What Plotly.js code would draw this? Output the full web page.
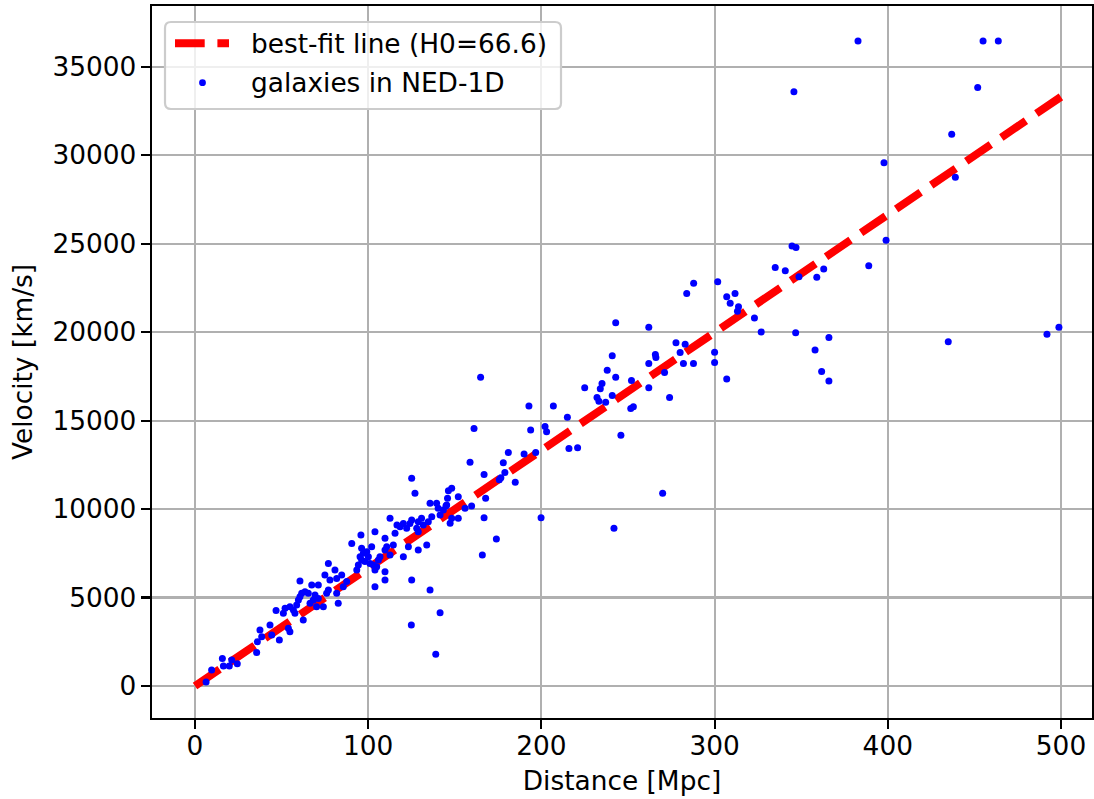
<!DOCTYPE html>
<html>
<head>
<meta charset="utf-8">
<script src="https://cdn.plot.ly/plotly-3.0.1.min.js"></script>
<style>html,body{margin:0;padding:0;background:#fff;}#chart{width:1094px;height:799px;}</style>
</head>
<body>
<div id="chart"></div>
<script>
// ---- data ----
const H0 = 66.6;
const fitDistance = [0, 500];
const fitVelocity = [0, 33300];

const galaxyDistance = [
  6.4, 9.6, 15.8, 16.4, 19.8, 21.2, 24.4, 35.6, 36.0, 37.5, 38.5, 43.3, 44.3, 48.7, 46.8, 51.0, 53.9, 54.8, 62.5, 52.0,
  54.8, 56.8, 58.7, 57.7, 59.7, 61.6, 60.6, 63.5, 65.4, 66.4, 68.3, 69.3, 71.2, 70.2, 67.4, 71.2, 74.1, 76.0, 77.0, 75.0,
  77.9, 77.0, 80.8, 81.8, 84.7, 82.7, 81.8, 85.6, 87.6, 60.6,
  125.1, 127.0, 148.2, 146.3, 152.0, 135.7, 139.5, 145.3, 143.4, 141.5, 148.2, 152.0, 155.9, 112.6, 115.5, 118.4, 120.3, 124.1, 122.2, 116.6,
  125.1, 128.9, 130.8, 128.0, 128.9, 131.8, 134.7, 136.7, 128.9, 133.8, 123.2, 120.3, 125.1, 135.7, 141.5, 103.9, 109.7, 102.0, 109.7, 110.7,
  114.5, 112.6, 109.7, 109.7, 103.9, 95.8, 90.5, 96.2, 97.2, 95.3, 99.2, 100.1, 96.2, 98.1, 94.3, 93.4, 101.0, 104.9, 105.9, 106.8,
  103.9, 103.0,
  192.8, 193.8, 202.1, 203.0, 161.1, 158.8, 180.9, 190.0, 196.7, 178.0, 178.9, 176.6, 175.7, 166.9, 184.9, 145.8, 140.4, 144.9, 159.7, 167.8,
  166.9, 199.8, 147.3,
  164.9, 242.9, 262.0, 277.7, 283.0, 280.1, 282.0, 287.8, 265.8, 266.1, 262.0, 271.1, 262.0, 274.0, 240.9, 238.0, 242.9, 252.0, 235.0, 234.0,
  225.0, 232.1, 233.2, 237.1, 240.9, 251.6, 253.1, 245.9, 206.9, 215.0, 215.9, 220.9, 270.0, 241.9,
  344.7, 347.0, 335.0, 340.8, 348.7, 359.0, 301.8, 287.9, 283.9, 307.0, 311.8, 309.0, 313.8, 313.2, 323.0, 326.9, 346.8, 358.0, 300.0, 300.0,
  307.0,
  399.0, 389.0, 363.0, 366.0, 361.8, 366.0,
  455.0, 463.8, 451.9, 436.9, 439.0, 397.8, 434.9, 491.9, 498.8,
  382.8, 345.8,
  174.0, 165.9, 124.9, 139.0
];
const galaxyVelocity = [
  230, 900, 1560, 1130, 1130, 1470, 1260, 1900, 2500, 3160, 2790, 3450, 2880, 2600, 4260, 4110, 3260, 3070, 3730, 4390,
  4480, 4290, 4580, 4110, 4860, 5240, 5050, 5330, 5240, 4670, 4860, 5140, 4950, 4480, 5710, 5710, 4480, 5240, 5420, 6270,
  5990, 6930, 6550, 6080, 6270, 4670, 5240, 5610, 5900, 5930,
  11740, 10890, 11170, 11040, 10700, 10330, 10330, 10230, 9950, 9670, 9480, 9480, 10040, 9480, 8630, 9000, 9190, 9190, 8910, 9100,
  9380, 9290, 9480, 8910, 8720, 9100, 9290, 9570, 7690, 7970, 7870, 7310, 5990, 5430, 4140, 8720, 8350, 7870, 7690, 7870,
  7970, 7400, 6460, 5990, 5610, 8530, 8060, 7780, 7500, 7310, 7590, 7310, 7120, 7030, 6840, 6550, 6930, 6740, 7120, 7310,
  6550, 6840,
  15830, 14470, 14660, 14370, 14560, 12640, 13190, 13110, 13190, 12620, 12060, 11770, 11660, 11960, 11510, 10610, 10040, 10170, 10170, 10610,
  9510, 9510, 9200,
  17450, 20530, 20280, 19400, 19310, 18850, 18230, 18230, 18740, 18570, 18230, 17720, 16850, 16310, 18660, 17850, 17450, 17270, 17100, 16800,
  16850, 16310, 16100, 16040, 16420, 15690, 15780, 14170, 15830, 15190, 13430, 13470, 10890, 8910,
  24870, 24790, 23660, 23470, 23130, 23100, 22850, 22760, 22190, 22000, 22190, 21630, 21440, 21180, 20800, 20010, 19970, 18990, 18860, 18290,
  17350,
  25200, 23750, 23570, 19690, 17770, 17240,
  36450, 36450, 33820, 31180, 28750, 29580, 19460, 19880, 20270,
  36450, 33590,
  8310, 7400, 3450, 1790
];

const legendLabels = ['best-fit line (H0=' + H0 + ')', 'galaxies in NED-1D'];
const xTitle = 'Distance [Mpc]';
const yTitle = 'Velocity [km/s]';

// ---- layout geometry (pixels) ----
const W = 1094, H = 799;
const M = {l: 152, r: 2, t: 6, b: 81};
const PW = W - M.l - M.r, PH = H - M.t - M.b;
const px2x = p => (p - M.l) / PW;
const px2y = p => (H - M.b - p) / PH;

const FONT = 'DejaVu Sans, Liberation Sans, sans-serif';
const FS = 26.4;
const RED = '#ff0000', BLUE = '#0000ff';
const DASH = '29.7px,12.7px';

const traces = [
  {
    x: fitDistance, y: fitVelocity, type: 'scatter', mode: 'lines',
    name: legendLabels[0],
    line: {color: RED, width: 7.9, dash: DASH},
    hoverinfo: 'skip'
  },
  {
    x: galaxyDistance, y: galaxyVelocity, type: 'scatter', mode: 'markers',
    name: legendLabels[1],
    marker: {color: BLUE, size: 7, line: {width: 0}}
  }
];

// rounded legend frame
function roundedRect(x0, y0, x1, y1, r) {
  const X = p => px2x(p).toFixed(5), Y = p => px2y(p).toFixed(5);
  return 'M' + X(x0 + r) + ',' + Y(y0) +
    ' L' + X(x1 - r) + ',' + Y(y0) + ' Q' + X(x1) + ',' + Y(y0) + ' ' + X(x1) + ',' + Y(y0 + r) +
    ' L' + X(x1) + ',' + Y(y1 - r) + ' Q' + X(x1) + ',' + Y(y1) + ' ' + X(x1 - r) + ',' + Y(y1) +
    ' L' + X(x0 + r) + ',' + Y(y1) + ' Q' + X(x0) + ',' + Y(y1) + ' ' + X(x0) + ',' + Y(y1 - r) +
    ' L' + X(x0) + ',' + Y(y0 + r) + ' Q' + X(x0) + ',' + Y(y0) + ' ' + X(x0 + r) + ',' + Y(y0) + ' Z';
}

const legX0 = 165, legY0 = 22, legX1 = 561, legY1 = 109;
const row1 = 43.3, row2 = 82.7;
const dotR = 3.4, dotCx = 202.5;

const shapes = [
  {type: 'path', xref: 'paper', yref: 'paper', layer: 'above',
   path: roundedRect(legX0, legY0, legX1, legY1, 6),
   fillcolor: 'rgba(255,255,255,0.8)', line: {color: '#cccccc', width: 2.2}},
  {type: 'line', xref: 'paper', yref: 'paper', layer: 'above',
   x0: px2x(175), x1: px2x(229), y0: px2y(row1), y1: px2y(row1),
   line: {color: RED, width: 7.9, dash: DASH}},
  {type: 'circle', xref: 'paper', yref: 'paper', layer: 'above',
   x0: px2x(dotCx - dotR), x1: px2x(dotCx + dotR), y0: px2y(row2 + dotR), y1: px2y(row2 - dotR),
   fillcolor: BLUE, line: {width: 0}}
];

const annotations = [
  {xref: 'paper', yref: 'paper', x: px2x(249), y: px2y(row1), xanchor: 'left', yanchor: 'middle',
   text: legendLabels[0], showarrow: false, font: {family: FONT, size: FS, color: '#000'}},
  {xref: 'paper', yref: 'paper', x: px2x(249), y: px2y(row2), xanchor: 'left', yanchor: 'middle',
   text: legendLabels[1], showarrow: false, font: {family: FONT, size: FS, color: '#000'}}
];

const axisCommon = {
  showgrid: true, gridcolor: '#b0b0b0', gridwidth: 2.1,
  zeroline: false,
  showline: true, linecolor: '#000', linewidth: 2.1, mirror: true,
  ticks: 'outside', ticklen: 9.2, tickwidth: 2.1, tickcolor: '#000',
  tickfont: {family: FONT, size: FS, color: '#000'},
  fixedrange: true
};

const layout = {
  width: W, height: H, autosize: false,
  margin: {l: M.l, r: M.r, t: M.t, b: M.b, pad: 0},
  paper_bgcolor: '#fff', plot_bgcolor: '#fff',
  font: {family: FONT, size: FS, color: '#000'},
  showlegend: false,
  xaxis: Object.assign({}, axisCommon, {
    range: [-24.83, 517.9],
    tickmode: 'array', tickvals: [0, 100, 200, 300, 400, 500],
    ticktext: ['0', '100', '200', '300', '400', '500'],
    ticklabelstandoff: -6,
    title: {text: xTitle, font: {family: FONT, size: FS, color: '#000'}, standoff: 12}
  }),
  yaxis: Object.assign({}, axisCommon, {
    range: [-1809, 38433],
    tickmode: 'array', tickvals: [0, 5000, 10000, 15000, 20000, 25000, 30000, 35000],
    ticktext: ['0', '5000', '10000', '15000', '20000', '25000', '30000', '35000'],
    ticklabelstandoff: -1,
    title: {text: yTitle, font: {family: FONT, size: FS, color: '#000'}, standoff: 12}
  }),
  shapes: shapes,
  annotations: annotations
};

Plotly.newPlot('chart', traces, layout, {displayModeBar: false, staticPlot: true});
</script>
</body>
</html>
